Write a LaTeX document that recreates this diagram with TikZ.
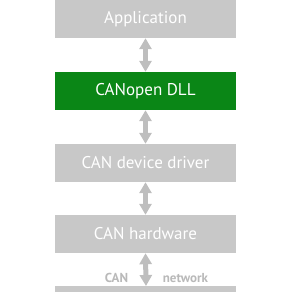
\documentclass[tikz,border=0pt]{standalone}
\usepackage{fontspec}
\setmainfont{PT Sans}
\usetikzlibrary{arrows.meta}
\definecolor{boxgrey}{RGB}{200,200,200}
\definecolor{arrgrey}{RGB}{190,190,190}
\definecolor{dllgreen}{RGB}{10,134,22}
\definecolor{netgrey}{RGB}{185,185,185}
\tikzset{
  layer/.style={draw=none, fill=boxgrey, minimum width=181pt, minimum height=38pt, inner sep=0pt, text=white, font=\fontsize{17}{20}\selectfont},
  dblarrow/.style={draw=arrgrey, line width=5pt, {Triangle[width=12pt,length=11pt]}-{Triangle[width=12pt,length=11pt]}, shorten <=0pt, shorten >=0pt},
  nettext/.style={text=netgrey, font=\bfseries\fontsize{13}{15}\selectfont, inner sep=0pt, anchor=base}
}
\begin{document}
\begin{tikzpicture}[x=1pt,y=-1pt]
\useasboundingbox (0,0) rectangle (292,292);
\node[layer] (app) at (145.5,19) {Application};
\node[layer, fill=dllgreen] (dll) at (145.5,91) {CANopen DLL};
\node[layer] (drv) at (145.5,163) {CAN device driver};
\node[layer] (hw) at (145.5,234) {CAN hardware};
\fill[boxgrey] (55,286) rectangle (236,292);
\coordinate (bus) at (146,286);
\draw[dblarrow] (app.south) -- (dll.north);
\draw[dblarrow] (dll.south) -- (drv.north);
\draw[dblarrow] (drv.south) -- (hw.north);
\draw[dblarrow] (hw.south) -- (bus);
\node[nettext] (can) at (116.5,282) {CAN};
\node[nettext] (net) at (185.5,282) {network};
\end{tikzpicture}
\end{document}
